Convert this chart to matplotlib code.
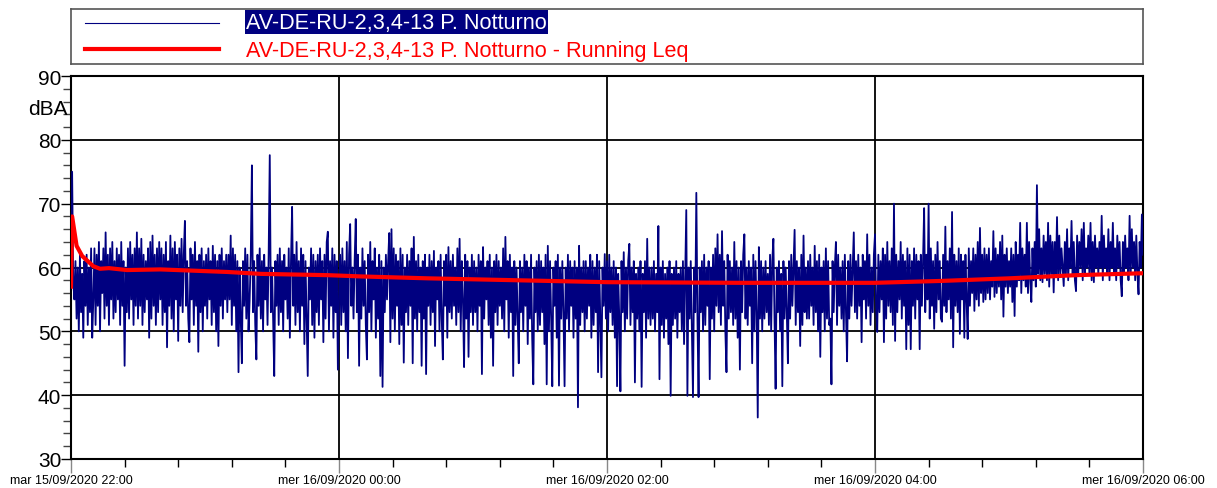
import numpy as np
import matplotlib
matplotlib.use('Agg')
import matplotlib.pyplot as plt

plt.rcParams['font.family'] = ['Liberation Sans', 'DejaVu Sans']

series_name = 'AV-DE-RU-2,3,4-13 P. Notturno'
leq_name = 'AV-DE-RU-2,3,4-13 P. Notturno - Running Leq'

# x tick labels, one every 2 hours (x axis in minutes from 22:00)
tick_minutes = [0, 120, 240, 360, 480]
tick_labels = ['mar 15/09/2020 22:00', 'mer 16/09/2020 00:00', 'mer 16/09/2020 02:00',
               'mer 16/09/2020 04:00', 'mer 16/09/2020 06:00']

# LAeq, one value every 30 s (rows = 10 minutes)
laeq = [
    57, 75, 58, 55, 61, 52, 60, 50, 62, 53, 59, 49, 61, 54, 62, 51, 60, 53, 63, 49,
    55, 63, 51, 62, 54, 64, 50, 61, 56, 63, 52, 65.5, 54, 62, 51, 63, 55, 64, 52, 61,
    53, 63, 55, 62, 51, 64, 54, 61, 44.6, 60, 53, 63, 52, 64, 55, 62, 51, 63, 54, 65.5,
    52, 63, 54, 64.5, 51, 62, 53, 61, 55, 63, 49, 64, 52, 65, 54, 62, 51, 63, 53, 64,
    55, 63, 51, 62, 53, 64, 47.5, 61, 54, 65, 52, 63, 50, 64, 55, 62, 48.5, 63, 54, 64.5,
    53, 62, 67.3, 54, 61, 52, 48.3, 63, 55, 62, 51, 64, 54, 61, 46.8, 62, 53, 63, 50, 61,
    54, 62, 52, 63, 55, 61, 51, 63.4, 53, 62, 50, 61, 47.7, 62, 54, 63, 52, 61, 55, 62,
    53, 62, 55, 65, 51, 63, 54, 62, 50, 61, 43.6, 60, 52, 45, 61, 54, 63, 52, 62, 50,
    55, 62, 76, 53, 61, 51, 45.6, 62, 54, 63, 52, 61, 50, 62, 55, 60, 51, 62, 77.6, 53,
    60, 52, 43, 61, 54, 62, 51, 63, 53, 61, 50, 62, 55, 60, 52, 63, 49, 61, 69.5, 54,
    62, 51, 64, 53, 61, 50, 63, 54, 62, 48, 61, 52, 43, 60, 55, 63, 51, 62, 49, 61,
    53, 62, 51, 63, 55, 61, 48.3, 62, 52, 64, 65.6, 50, 61, 54, 63, 49, 62, 53, 61, 44,
    55, 62, 51, 63, 53, 61, 50, 64, 45.8, 62, 66.8, 54, 60, 52, 61, 67.6, 53, 62, 44.6, 60,
    52, 63, 54, 61, 51, 45.6, 62, 53, 64, 50, 61, 55, 63, 49, 60, 52, 62, 43, 61, 41.3,
    60, 53, 62, 55, 61, 65.4, 48.3, 66, 52, 63, 50, 62, 54, 61, 48, 63, 51, 62, 45.1, 60,
    53, 62, 51, 61, 54, 63, 45, 64.8, 52, 61, 50, 62, 53, 60, 44.6, 61, 52, 62, 43.3, 60,
    54, 62, 51, 61, 53, 62.6, 47.7, 60, 55, 61, 50, 62, 52, 45.6, 61, 54, 62, 49, 63.2, 53,
    61, 52, 62, 54, 60, 51, 63, 53, 64.5, 50, 61, 55, 44.4, 62, 52, 61, 46, 60, 53, 62,
    51, 61, 53, 60, 50, 62, 54, 61, 43.3, 63.2, 52, 60, 55, 61, 51, 62, 49, 60, 44.6, 61,
    53, 62, 51, 61, 54, 60, 52, 63, 50, 64.8, 55, 61, 49, 62, 53, 60, 43, 61, 51, 60,
    52, 45, 61, 53, 60, 50, 62, 54, 61, 48, 60, 52, 62, 49, 41.7, 60, 53, 61, 50, 62,
    51, 61, 53, 60, 48, 62, 41.7, 63.4, 50, 61, 52, 41.4, 60, 54, 61, 49, 62, 41.5, 60, 52,
    61, 53, 41.4, 60, 52, 62, 50, 61, 54, 60, 49, 61, 52, 60, 38.1, 63.4, 51, 60, 53, 61,
    50, 61, 52, 60, 54, 62, 49, 61, 51, 60, 53, 62, 43.6, 61, 52, 42.8, 60, 54, 62.1, 52,
    61, 50, 62, 53, 60, 51, 61, 49, 60, 41.4, 59, 52, 40.6, 61, 53, 62.4, 50, 60, 52, 61,
    63.7, 51, 60, 53, 61, 42, 59, 52, 60, 50, 61, 41.3, 59, 53, 61, 49, 64.5, 52, 60, 51,
    60, 52, 61, 50, 59, 53, 66.5, 42.5, 60, 51, 61, 49, 59, 52, 60, 48, 61, 39.9, 59, 51,
    60, 52, 61, 49, 59, 53, 60, 50, 61, 48, 59, 69, 39.9, 60, 52, 61, 50, 39.7, 60, 53,
    71.7, 52, 39.7, 60, 53, 61, 50, 62, 51, 60, 54, 61, 42.5, 60, 52, 62, 50, 63, 54, 65.2,
    53, 62, 51, 65.7, 54, 61, 50, 43.6, 62, 52, 61, 53, 60, 51, 64, 52, 61, 49, 60, 44,
    61, 53, 62, 65.2, 52, 60, 51, 61, 54, 60, 45, 62, 50, 61, 53, 36.5, 63.2, 52, 61, 50,
    60, 52, 61, 53, 59, 51, 62, 50, 61, 64.5, 52, 41, 60, 53, 61, 50, 59, 41.4, 61, 52,
    60, 53, 45, 61, 52, 62, 54, 60, 65.9, 51, 61, 53, 60, 47.7, 62, 51, 65, 53, 60, 52,
    61, 52, 62, 54, 60, 51, 63.4, 53, 61, 50, 62, 46, 60, 53, 61, 50, 63, 52, 61, 51,
    52, 41.7, 61, 53, 60, 64, 51, 62, 54, 60, 52, 61, 50, 62, 53, 45.3, 61, 52, 62, 54,
    60, 65.5, 53, 61, 52, 62, 54, 60, 48.3, 62, 55, 61, 52, 65.2, 54, 62, 51, 60, 53, 62,
    65.2, 54, 49.9, 62, 53, 61, 55, 63, 48.3, 62, 52, 64, 54, 61, 53, 63, 51, 70, 48.5, 62,
    53, 61, 55, 64, 52, 62, 54, 61, 47.2, 63, 51, 62, 47.2, 61, 54, 63, 52, 62, 55, 61,
    47.2, 62, 54, 61, 69.3, 53, 62, 55, 70, 52, 63, 54, 61, 50.4, 62, 53, 64, 55, 61, 52,
    51.5, 62, 54, 66.4, 53, 61, 55, 63, 52, 68.7, 47.5, 62, 54, 61, 53, 63, 49.6, 62, 55, 61,
    49, 62, 55, 48.8, 63, 54, 61, 56, 63, 53.2, 62, 55, 64, 54, 66.2, 56, 62, 54.6, 63, 55,
    62, 56, 63, 55, 61, 57, 65.7, 55.4, 63, 56, 62, 57, 64, 55, 65, 52.3, 62, 57, 63, 56,
    61, 57, 63, 54.6, 62, 52.4, 64, 57, 62, 58, 67, 56, 63, 58, 62, 57, 67, 56, 64, 58,
    54.6, 63, 58, 64, 57, 72.9, 59, 66, 58, 63, 57.7, 65, 59, 64, 58, 67, 57, 65, 59, 64,
    56.1, 64, 59, 67.9, 58, 65, 59, 63, 60, 57.1, 64, 59, 66, 58, 63, 60, 67.3, 59, 64, 58,
    56.3, 65, 59, 64, 60, 66, 58, 67, 59, 63, 60, 65, 59, 67, 58, 64, 57.7, 65, 60, 63,
    59, 64, 60, 68.1, 58, 65, 60, 63, 59, 66, 58, 64, 60, 67, 59, 63, 58, 65, 60, 64,
    58, 55.5, 64, 59, 65, 60, 63, 58, 68.1, 59, 66, 60, 64, 58, 65, 59, 55.8, 64, 60, 68.3,
    62,
]
laeq_minutes = np.arange(len(laeq)) * 0.5

# running Leq
leq_minutes = [0, 0.5, 2.5, 5, 10, 13, 17, 25, 40, 55, 70, 85, 100, 115, 130, 160,
               200, 240, 300, 360, 390, 420, 450, 480]
leq_values = [57.0, 68.0, 63.4, 61.8, 60.2, 59.8, 59.9, 59.6, 59.7, 59.5, 59.3, 59.0,
              58.9, 58.8, 58.6, 58.3, 58.0, 57.7, 57.6, 57.6, 57.9, 58.3, 58.8, 59.1]

fig = plt.figure(figsize=(12.17, 4.89), dpi=100)
ax = fig.add_axes([71 / 1217, 1 - 460 / 489, 1072 / 1217, 383 / 489])

ax.plot(laeq_minutes, laeq, color='#000080', linewidth=1.3, zorder=3)
ax.plot(leq_minutes, leq_values, color='#ff0000', linewidth=3.0, zorder=4)

ax.set_xlim(0, 480)
ax.set_ylim(30, 90)
ax.set_xticks(tick_minutes)
ax.set_xticklabels(tick_labels, fontsize=9)
ax.set_xticks(np.arange(0, 481, 24), minor=True)
ax.set_yticks(np.arange(30, 91, 10))
ax.set_yticks(np.arange(30, 91, 2), minor=True)
ax.tick_params(axis='y', which='major', labelsize=15, length=7, width=1, pad=0)
ax.tick_params(axis='y', which='minor', length=6, width=1, color='#444444')
ax.tick_params(axis='x', which='major', length=10, width=1, pad=1, color='#888888')
ax.tick_params(axis='x', which='minor', length=6, width=1)
ax.grid(True, which='major', color='black', linewidth=1.3)
for s in ax.spines.values():
    s.set_linewidth(1.5)
fig.text(68 / 1217, 1 - 110 / 489, 'dBA', fontsize=15, ha='right', va='center')

# legend frame across the top
lg = fig.add_axes([71 / 1217, 1 - 65 / 489, 1072 / 1217, 55 / 489])
lg.set_xlim(0, 1072)
lg.set_ylim(55, 0)
lg.set_xticks([])
lg.set_yticks([])
for s in lg.spines.values():
    s.set_color('#555555')
    s.set_linewidth(1.2)
lg.plot([14, 148], [14, 14], color='#000080', linewidth=0.8)
lg.plot([14, 148], [40, 40], color='#ff0000', linewidth=3.0)
lg.text(175, 13, series_name, fontsize=15.6, color='white', va='center',
        bbox=dict(facecolor='#000080', edgecolor='none', pad=1))
lg.text(175, 42, leq_name, fontsize=15.6, color='#ff0000', va='center')

plt.savefig('out.png', dpi=100)
